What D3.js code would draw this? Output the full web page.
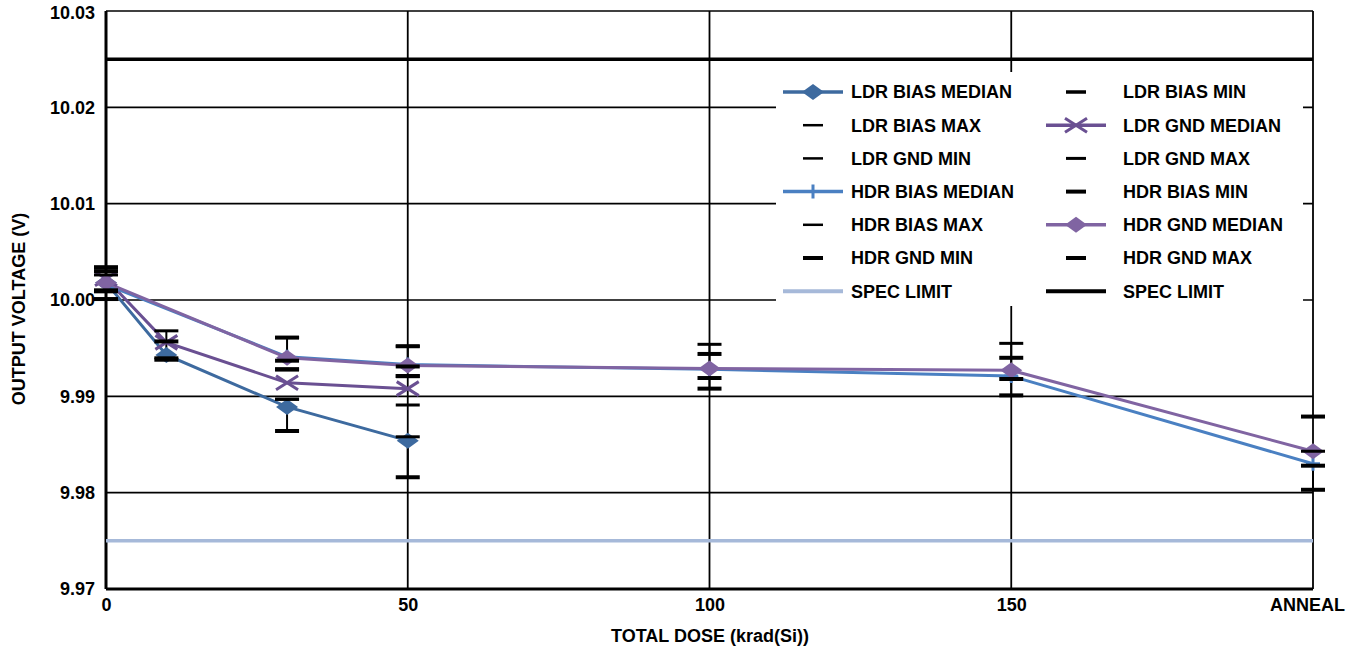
<!DOCTYPE html>
<html>
<head>
<meta charset="utf-8">
<script src="https://cdn.jsdelivr.net/npm/d3@7"></script>
<style>
  body { margin: 0; background: #fff; }
  text { font-family: "Liberation Sans", Arial, sans-serif; font-weight: bold; }
</style>
</head>
<body>
<div id="chart"></div>
<script>
// ---- data ----
var doseTicks = [0, 50, 100, 150, 200];
var doseTickLabels = ["0", "50", "100", "150", "ANNEAL"];
var voltTicks = [9.97, 9.98, 9.99, 10.00, 10.01, 10.02, 10.03];

var ldrDoses = [0, 10, 30, 50];
var hdrDoses = [0, 30, 50, 100, 150, 200];

var ldrBiasMedian = [10.0018, 9.9943, 9.9889, 9.9854];
var ldrBiasMin = [10.0009, 9.9938, 9.9864, 9.9816];
var ldrBiasMax = [10.0034, 9.9968, 9.9897, 9.9858];
var ldrGndMedian = [10.0022, 9.9956, 9.9914, 9.9908];
var ldrGndMin = [10.0010, 9.9940, 9.9897, 9.9891];
var ldrGndMax = [10.0030, 9.9957, 9.9928, 9.9921];

var hdrBiasMedian = [10.0016, 9.9941, 9.9933, 9.9928, 9.9921, 9.9830];
var hdrBiasMin = [10.0010, 9.9937, 9.9931, 9.9908, 9.9901, 9.9803];
var hdrBiasMax = [10.0026, 9.9961, 9.9952, 9.9954, 9.9955, 9.9843];
var hdrGndMedian = [10.0018, 9.9940, 9.9932, 9.9929, 9.9927, 9.9843];
var hdrGndMin = [10.0001, 9.9928, 9.9921, 9.9919, 9.9918, 9.9828];
var hdrGndMax = [10.0034, 9.9961, 9.9952, 9.9944, 9.9940, 9.9879];

var specLow = 9.975;
var specHigh = 10.025;

var legendLabels = [
  "LDR BIAS MEDIAN", "LDR BIAS MIN", "LDR BIAS MAX", "LDR GND MEDIAN",
  "LDR GND MIN", "LDR GND MAX", "HDR BIAS MEDIAN", "HDR BIAS MIN",
  "HDR BIAS MAX", "HDR GND MEDIAN", "HDR GND MIN", "HDR GND MAX",
  "SPEC LIMIT", "SPEC LIMIT"
];

var cLdrBias = "#3d6a9f", cLdrGnd = "#6a5092", cHdrBias = "#4a80c2", cHdrGnd = "#8064a2", cSpec = "#a6b9d9";

// ---- layout ----
var W = 1358, H = 648;
var margin = { top: 11, right: 45, bottom: 59, left: 106 };
var fs = 18;

var svg = d3.select("#chart").append("svg")
  .attr("width", W).attr("height", H);

var x = d3.scaleLinear().domain([0, 200]).range([margin.left, W - margin.right]);
var y = d3.scaleLinear().domain([9.97, 10.03]).range([H - margin.bottom, margin.top]);

// grid
svg.append("g").selectAll("line").data(voltTicks).enter().append("line")
  .attr("x1", x(0)).attr("x2", x(200))
  .attr("y1", function (d) { return y(d); }).attr("y2", function (d) { return y(d); })
  .attr("stroke", "#000").attr("stroke-width", function (d) { return d === 9.97 ? 3 : 1.6; });

svg.append("g").selectAll("line").data(doseTicks).enter().append("line")
  .attr("x1", function (d) { return x(d); }).attr("x2", function (d) { return x(d); })
  .attr("y1", y(10.03)).attr("y2", y(9.97))
  .attr("stroke", "#000").attr("stroke-width", function (d) { return d === 0 ? 3 : 1.8; });

// axes labels via d3 axes
var yAxis = svg.append("g")
  .attr("transform", "translate(" + (margin.left) + ",0)")
  .call(d3.axisLeft(y).tickValues(voltTicks).tickSize(0).tickPadding(11)
    .tickFormat(function (d) { return d3.format(".2f")(d); }));
yAxis.select(".domain").remove();
yAxis.selectAll("text").attr("font-size", fs).attr("fill", "#000")
  .attr("dy", function (d) { return d === 10.03 ? "0.42em" : "0.32em"; })
  .attr("font-family", "Liberation Sans, Arial, sans-serif").attr("font-weight", "bold");

var xAxis = svg.append("g")
  .attr("transform", "translate(0," + y(9.97) + ")")
  .call(d3.axisBottom(x).tickValues(doseTicks).tickSize(0).tickPadding(9)
    .tickFormat(function (d, i) { return doseTickLabels[i]; }));
xAxis.select(".domain").remove();
xAxis.selectAll("text").attr("font-size", fs).attr("fill", "#000")
  .attr("font-family", "Liberation Sans, Arial, sans-serif").attr("font-weight", "bold")
  .attr("dx", function (d) { return d === 200 ? -6 : 0; });

svg.append("text").attr("x", 710).attr("y", 642).attr("text-anchor", "middle")
  .attr("font-size", fs).text("TOTAL DOSE (krad(Si))");
svg.append("text").attr("transform", "translate(25,309) rotate(-90)")
  .attr("text-anchor", "middle").attr("font-size", fs).text("OUTPUT VOLTAGE (V)");

// spec limits
svg.append("line").attr("x1", x(0)).attr("x2", x(200))
  .attr("y1", y(specLow)).attr("y2", y(specLow))
  .attr("stroke", cSpec).attr("stroke-width", 3.5);
svg.append("line").attr("x1", x(0)).attr("x2", x(200))
  .attr("y1", y(specHigh)).attr("y2", y(specHigh))
  .attr("stroke", "#000").attr("stroke-width", 3.5);

// error whiskers (bias groups) and min/max caps
function whiskers(doses, mins, maxs) {
  svg.append("g").selectAll("line").data(doses).enter().append("line")
    .attr("x1", function (d) { return x(d); }).attr("x2", function (d) { return x(d); })
    .attr("y1", function (d, i) { return y(mins[i]); })
    .attr("y2", function (d, i) { return y(maxs[i]); })
    .attr("stroke", "#000").attr("stroke-width", 2);
}
whiskers(ldrDoses, ldrBiasMin, ldrBiasMax);
whiskers(hdrDoses, hdrBiasMin, hdrBiasMax);

function caps(doses, vals, sw) {
  svg.append("g").selectAll("line").data(doses).enter().append("line")
    .attr("x1", function (d) { return x(d) - 12; }).attr("x2", function (d) { return x(d) + 12; })
    .attr("y1", function (d, i) { return y(vals[i]); })
    .attr("y2", function (d, i) { return y(vals[i]); })
    .attr("stroke", "#000").attr("stroke-width", sw);
}

// median lines
var line = d3.line();
function series(doses, vals, color) {
  svg.append("path")
    .datum(doses.map(function (d, i) { return [x(d), y(vals[i])]; }))
    .attr("fill", "none").attr("stroke", color).attr("stroke-width", 3)
    .attr("d", line);
}

function diamond(g, cx, cy, color) {
  g.append("path")
    .attr("d", "M" + (cx - 11) + "," + cy + "L" + cx + "," + (cy - 8) + "L" + (cx + 11) + "," + cy + "L" + cx + "," + (cy + 8) + "Z")
    .attr("fill", color);
}
function cross(g, cx, cy, color) {
  g.append("path")
    .attr("d", "M" + (cx - 11) + "," + (cy - 7) + "L" + (cx + 11) + "," + (cy + 7) + "M" + (cx - 11) + "," + (cy + 7) + "L" + (cx + 11) + "," + (cy - 7))
    .attr("stroke", color).attr("stroke-width", 3).attr("fill", "none");
}
function plus(g, cx, cy, color) {
  g.append("path")
    .attr("d", "M" + cx + "," + (cy - 7) + "L" + cx + "," + (cy + 7) + "M" + (cx - 7) + "," + cy + "L" + (cx + 7) + "," + cy)
    .attr("stroke", color).attr("stroke-width", 3);
}
function markers(doses, vals, color, fn) {
  var g = svg.append("g");
  doses.forEach(function (d, i) { fn(g, x(d), y(vals[i]), color); });
}

series(ldrDoses, ldrBiasMedian, cLdrBias);
series(ldrDoses, ldrGndMedian, cLdrGnd);
series(hdrDoses, hdrBiasMedian, cHdrBias);
series(hdrDoses, hdrGndMedian, cHdrGnd);
markers(ldrDoses, ldrBiasMedian, cLdrBias, diamond);
markers(ldrDoses, ldrGndMedian, cLdrGnd, cross);
markers(hdrDoses, hdrBiasMedian, cHdrBias, plus);
markers(hdrDoses, hdrGndMedian, cHdrGnd, diamond);

caps(ldrDoses, ldrBiasMin, 4);
caps(ldrDoses, ldrBiasMax, 3);
caps(ldrDoses, ldrGndMin, 3);
caps(ldrDoses, ldrGndMax, 4);
caps(hdrDoses, hdrBiasMin, 4);
caps(hdrDoses, hdrBiasMax, 3);
caps(hdrDoses, hdrGndMin, 4);
caps(hdrDoses, hdrGndMax, 4);

// legend
var leg = svg.append("g");
leg.append("rect").attr("x", 776).attr("y", 72).attr("width", 527).attr("height", 234).attr("fill", "#fff");
var legendKinds = [
  ["line", cLdrBias, diamond], ["dash", "#000", 3.5], ["dash", "#000", 2.5], ["line", cLdrGnd, cross],
  ["dash", "#000", 2.5], ["dash", "#000", 3], ["line", cHdrBias, plus], ["dash", "#000", 4],
  ["dash", "#000", 2.5], ["line", cHdrGnd, diamond], ["dash", "#000", 4], ["dash", "#000", 4],
  ["spec", cSpec], ["spec", "#000"]
];
legendLabels.forEach(function (lab, i) {
  var col = i % 2, row = Math.floor(i / 2);
  var sx = col === 0 ? 783 : 1046;
  var ty = 92 + row * 33.2;
  var k = legendKinds[i];
  if (k[0] === "line" || k[0] === "spec") {
    leg.append("line").attr("x1", sx).attr("x2", sx + 60).attr("y1", ty).attr("y2", ty)
      .attr("stroke", k[1]).attr("stroke-width", k[0] === "spec" ? 4 : 3.5);
    if (k[2]) k[2](leg, sx + 30, ty, k[1]);
  } else {
    leg.append("line").attr("x1", sx + 20).attr("x2", sx + 40).attr("y1", ty).attr("y2", ty)
      .attr("stroke", k[1]).attr("stroke-width", k[2]);
  }
  leg.append("text").attr("x", col === 0 ? 851 : 1123).attr("y", ty).attr("dy", "0.36em")
    .attr("font-size", fs).attr("fill", "#000").text(lab);
});
</script>
</body>
</html>
